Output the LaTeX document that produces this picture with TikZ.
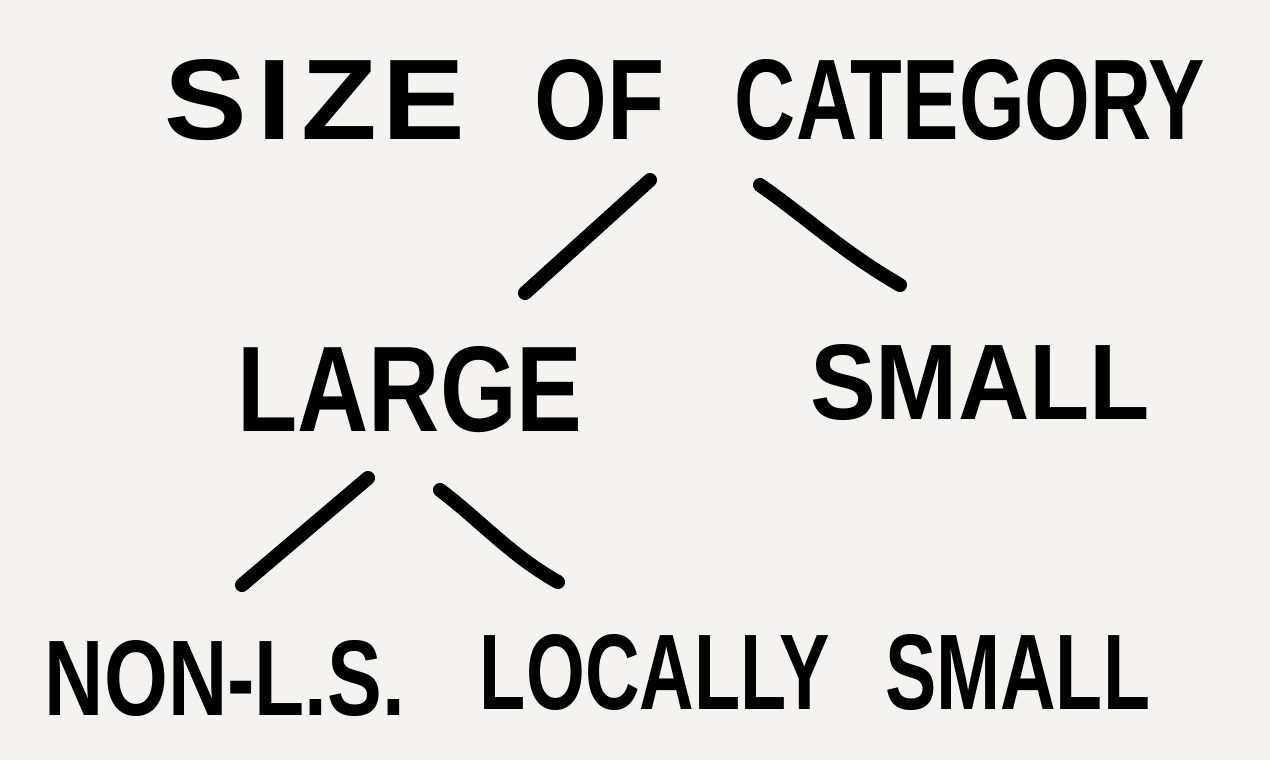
\documentclass[tikz,border=0pt]{standalone}
\usepackage{fontspec}
\setmainfont{Liberation Sans}
\usepackage{graphicx}
\definecolor{paper}{HTML}{F4F3EF}
\newcommand{\wbox}[3]{\resizebox{#1}{#2}{#3}}
\begin{document}
\begin{tikzpicture}[
  lbl/.style={inner sep=0pt, anchor=center, font=\bfseries},
  stroke/.style={line width=8pt, line cap=round, line join=round, black}]
\fill[paper] (0,0) rectangle (25.4,-15.2);
\useasboundingbox (0,0) rectangle (25.4,-15.2);
\node[lbl] (title) at (13.7,-2.0) {\wbox{6cm}{1.6cm}{S\kern0.08em I\kern0.08em Z\kern0.04em E}\hspace{1.4cm}\wbox{2.6cm}{1.6cm}{OF}\hspace{1.4cm}\wbox{9.4cm}{1.6cm}{CATEGORY}};
\node[lbl] (large) at (8.2,-7.8) {\wbox{6.9cm}{1.7cm}{LARGE}};
\node[lbl] (small) at (19.6,-7.66) {\wbox{6.8cm}{1.5cm}{SMALL}};
\node[lbl] (nonls) at (4.5,-13.56) {\wbox{7.2cm}{1.5cm}{NON-L.S.}};
\node[lbl] (locsmall) at (16.3,-13.44) {\wbox{7.0cm}{1.5cm}{LOCALLY}\hspace{1.1cm}\wbox{5.3cm}{1.5cm}{SMALL}};
\coordinate (t1) at (13.0,-3.6);
\coordinate (l1) at (10.5,-5.86);
\coordinate (t2) at (15.2,-3.7);
\coordinate (s1) at (18.0,-5.7);
\coordinate (g1) at (7.36,-9.56);
\coordinate (n1) at (4.84,-11.7);
\coordinate (g2) at (8.8,-9.8);
\coordinate (c1) at (11.16,-11.64);
\draw[stroke] (t1) -- (l1);
\draw[stroke] (t2) .. controls (16.2,-4.4) and (16.8,-5.0) .. (s1);
\draw[stroke] (g1) -- (n1);
\draw[stroke] (g2) .. controls (9.6,-10.4) and (10.2,-11.1) .. (c1);
\end{tikzpicture}
\end{document}
